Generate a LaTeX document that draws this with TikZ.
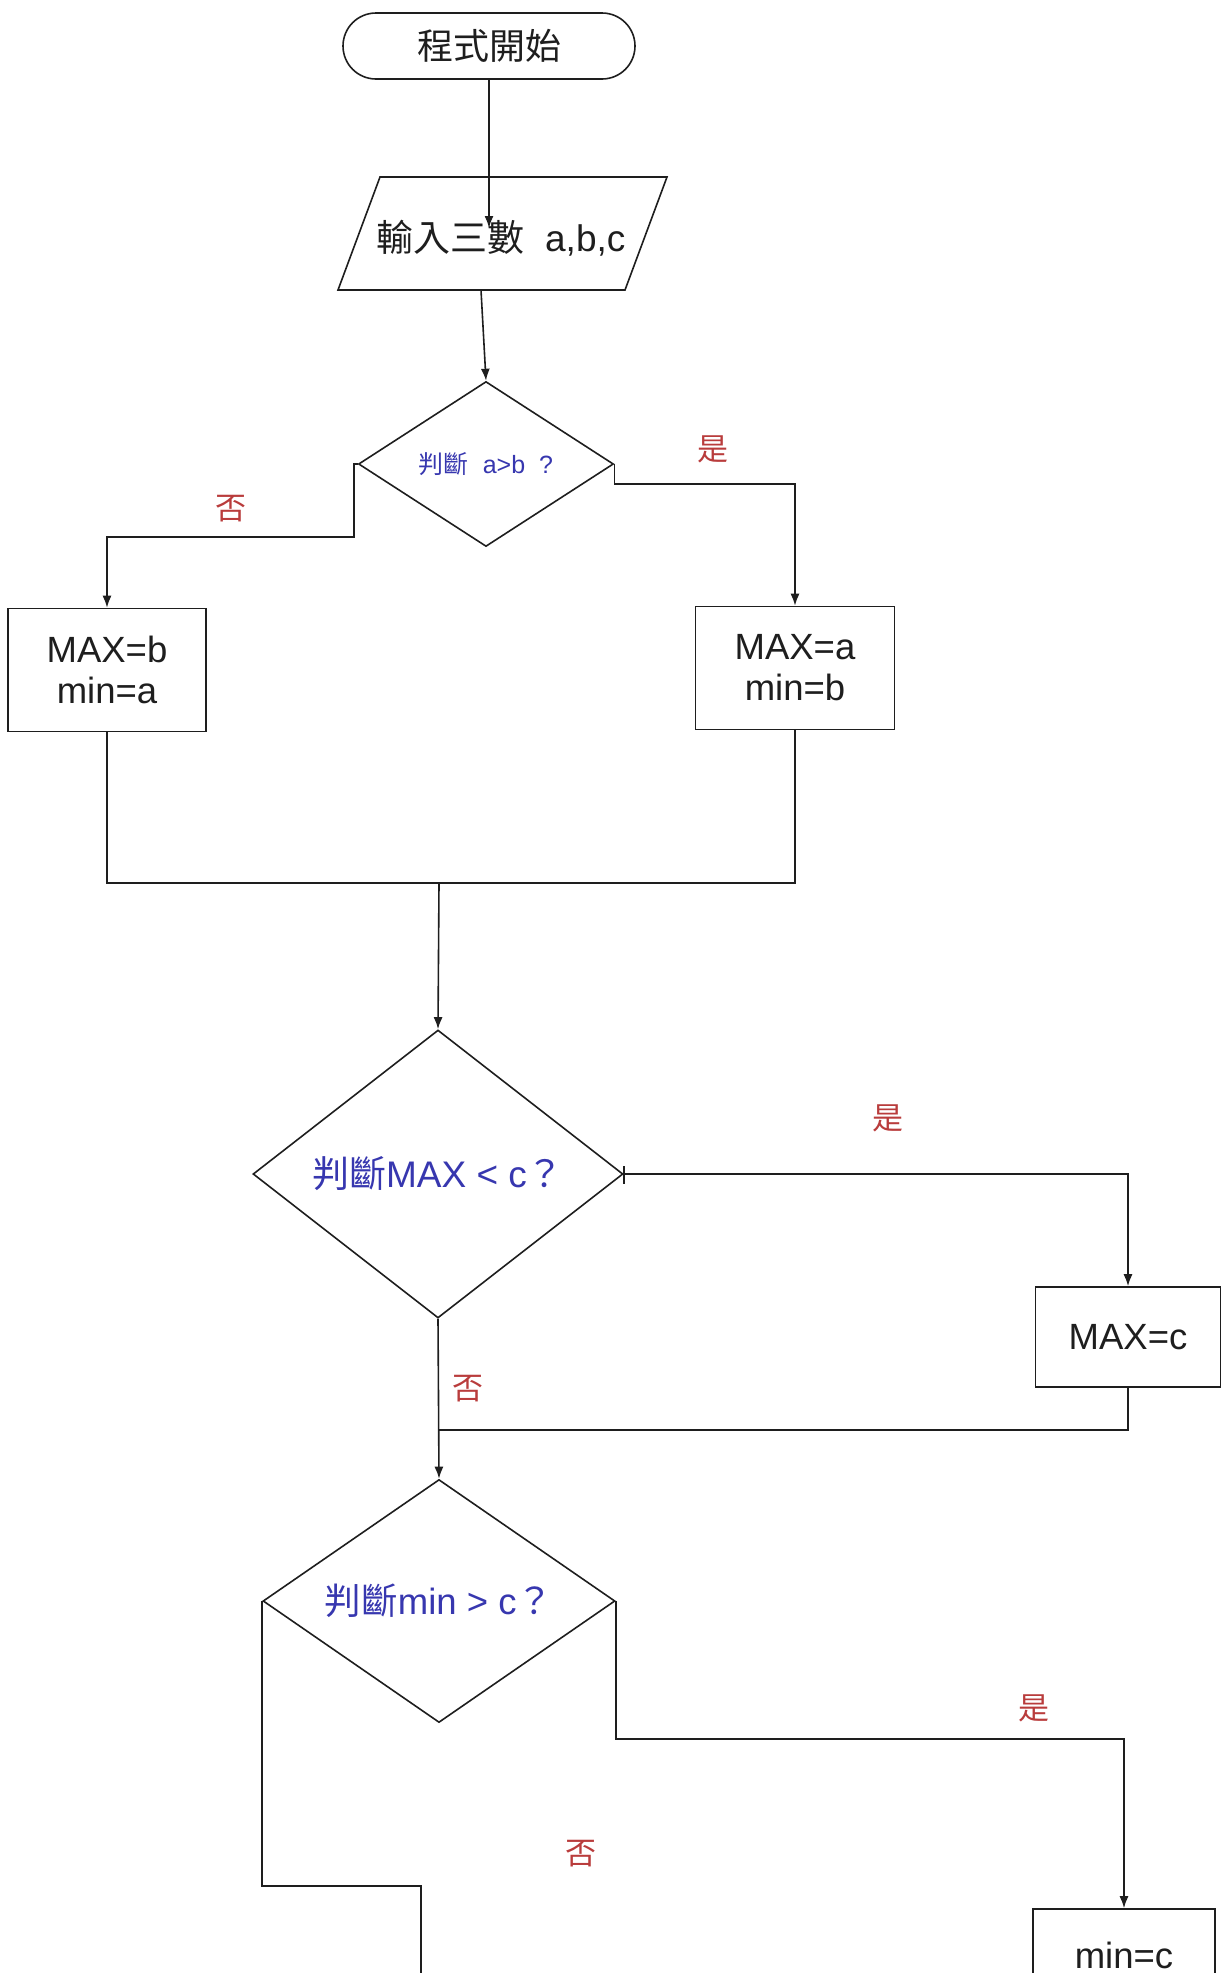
\documentclass[tikz,border=0pt]{standalone}
\usepackage{fontspec}
\setmainfont{Liberation Sans}
\newfontfamily\cjk{Noto Sans CJK TC}
\usetikzlibrary{shapes.geometric,arrows.meta,calc}
\definecolor{qblue}{RGB}{55,55,175}
\definecolor{lred}{RGB}{185,60,60}
\definecolor{ink}{RGB}{30,30,30}
\begin{document}
\begin{tikzpicture}[x=1pt,y=-1pt,
 conn/.style={draw=ink, line width=1.6pt},
 arr/.style={conn, -{Latex[length=12pt,width=9pt]}},
 procbox/.style={draw=ink, line width=1.6pt, rectangle, inner sep=0pt, align=center, font=\fontsize{36.5}{41}\selectfont, text=ink},
 decide/.style={draw=ink, line width=1.6pt, diamond, inner sep=0pt, text=qblue},
 yesno/.style={text=lred, font=\cjk\fontsize{31}{36}\selectfont, inner sep=0pt}]
\useasboundingbox (0,0) rectangle (1225,1973);
\clip (0,0) rectangle (1225,1973);

% start
\node[draw=ink, line width=1.6pt, rounded corners=33, minimum width=292, minimum height=66, inner sep=0pt,
      font=\cjk\fontsize{36}{42}\selectfont, text=ink] (start) at (489,46) {程式開始};

% input parallelogram
\draw[conn] (380,177) -- (667,177) -- (625,290) -- (338,290) -- cycle;
\node[font=\fontsize{37}{42}\selectfont, text=ink, inner sep=0pt] (in) at (501,238) {{\cjk 輸入三數}\ \ a,b,c};
\coordinate (inTip) at (489,228);
\coordinate (inS) at (481,290);

% decisions
\node[decide, aspect=1.55, minimum width=255, minimum height=165, font=\fontsize{25}{28}\selectfont] (d1) at (486,464) {{\cjk 判斷}\ \ a>b\ \ ?};
\node[decide, aspect=1.28, minimum width=370, minimum height=288, font=\fontsize{37}{42}\selectfont] (d2) at (438,1174) {{\cjk 判斷}MAX < c{\cjk ？}};
\node[decide, aspect=1.45, minimum width=352, minimum height=243, font=\fontsize{36.5}{42}\selectfont] (d3) at (439,1601) {{\cjk 判斷}min > c{\cjk ？}};

% process boxes
\node[procbox, minimum width=198, minimum height=123] (b1) at (107,670) {MAX=b\\min=a};
\node[procbox, minimum width=199, minimum height=123] (b2) at (795,668) {MAX=a\\min=b};
\node[procbox, minimum width=185, minimum height=100] (b3) at (1128,1337) {MAX=c};
\node[procbox, minimum width=182, minimum height=92] (b4) at (1124,1955) {min=c};

% labels
\node[yesno] (n1) at (231,509) {否};
\node[yesno] (y1) at (713,449) {是};
\node[yesno] (y2) at (888,1118) {是};
\node[yesno] (n2) at (468,1389) {否};
\node[yesno] (y3) at (1034,1708) {是};
\node[yesno] (n3) at (581,1854) {否};

% junctions
\coordinate (j1) at (439,883);
\coordinate (j2) at (439,1430);
\coordinate (e) at (421,1995);

% connectors
\draw[arr] (start.south) -- (inTip);
\draw[arr] (inS) -- (d1.north);
\draw[arr] (d1.west) -- ++(-4,0) -- ++(0,73) -| (b1.north);
\draw[arr] (d1.east) -- ++(0,20) -| (b2.north);
\draw[conn] (b1.south) |- (j1) -| (b2.south);
\draw[arr] (j1) -- (d2.north);
\draw[conn] ($(d2.east)+(0,-8)$) -- ($(d2.east)+(0,10)$);
\draw[arr] (d2.east) -| (b3.north);
\draw[arr] (d2.south) -- (d3.north);
\draw[conn] (b3.south) |- (j2);
\draw[arr] (d3.east) -- ++(0,138) -| (b4.north);
\draw[conn] (d3.west) -- ++(0,285) -| (e);
\end{tikzpicture}
\end{document}
